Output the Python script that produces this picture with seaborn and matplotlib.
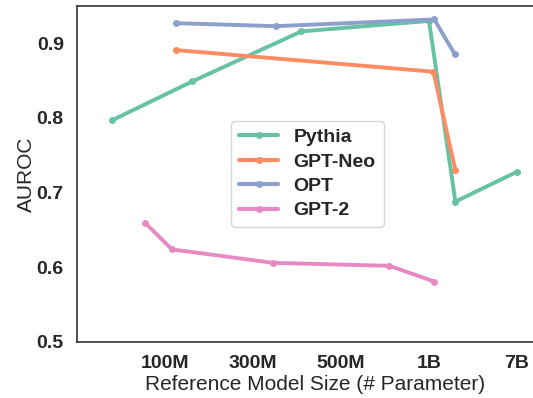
import matplotlib
matplotlib.use("Agg")
import matplotlib.pyplot as plt
import seaborn as sns
import pandas as pd

# Data (x = position on the custom size axis)
tick_pos = [1, 2, 3, 4, 5]
tick_labels = ["100M", "300M", "500M", "1B", "7B"]

pythia_x = [0.40, 1.31, 2.55, 4.00, 4.30, 5.00]
pythia_y = [0.797, 0.849, 0.916, 0.930, 0.688, 0.728]
neo_x = [1.12, 4.05, 4.30]
neo_y = [0.891, 0.862, 0.730]
opt_x = [1.12, 2.26, 4.06, 4.29]
opt_y = [0.927, 0.923, 0.932, 0.886]
gpt2_x = [0.77, 1.08, 2.23, 3.55, 4.06]
gpt2_y = [0.660, 0.624, 0.606, 0.602, 0.581]

models = ["Pythia", "GPT-Neo", "OPT", "GPT-2"]
xs = [pythia_x, neo_x, opt_x, gpt2_x]
ys = [pythia_y, neo_y, opt_y, gpt2_y]

rows = []
for m, xx, yy in zip(models, xs, ys):
    for a, b in zip(xx, yy):
        rows.append({"model": m, "x": a, "y": b})
df = pd.DataFrame(rows)

sns.set_theme(style="white")
plt.rcParams["font.family"] = ["Liberation Sans", "DejaVu Sans"]

fig = plt.figure(figsize=(5.33, 3.98), dpi=100)
ax = fig.add_axes([77 / 533, (398 - 342) / 398, 88 * 5.4 / 533, 336 / 398])

sns.lineplot(data=df, x="x", y="y", hue="model", hue_order=models,
             palette=sns.color_palette("Set2", 4), marker="o", markersize=5,
             markeredgewidth=0, linewidth=2.8, sort=False, estimator=None, ax=ax)

ax.set_xlim(0, 5.4)
ax.set_ylim(0.5, 0.95)
ax.set_xticks(tick_pos)
ax.set_xticklabels(tick_labels, fontsize=14, fontweight="bold")
ax.set_yticks([0.5, 0.6, 0.7, 0.8, 0.9])
ax.set_yticklabels(["0.5", "0.6", "0.7", "0.8", "0.9"], fontsize=14, fontweight="bold")
ax.set_xlabel("Reference Model Size (# Parameter)", fontsize=15, labelpad=2)
ax.set_ylabel("AUROC", fontsize=15, labelpad=0.5)
for s in ax.spines.values():
    s.set_color("#333333")
    s.set_linewidth(1.2)

leg = ax.legend(loc="center", bbox_to_anchor=(0.577, 0.563), bbox_transform=fig.transFigure,
                prop={"weight": "bold", "size": 14}, frameon=True, labelspacing=0.35)
for line in leg.get_lines():
    line.set_linewidth(3)

fig.savefig("out.png", dpi=100)
